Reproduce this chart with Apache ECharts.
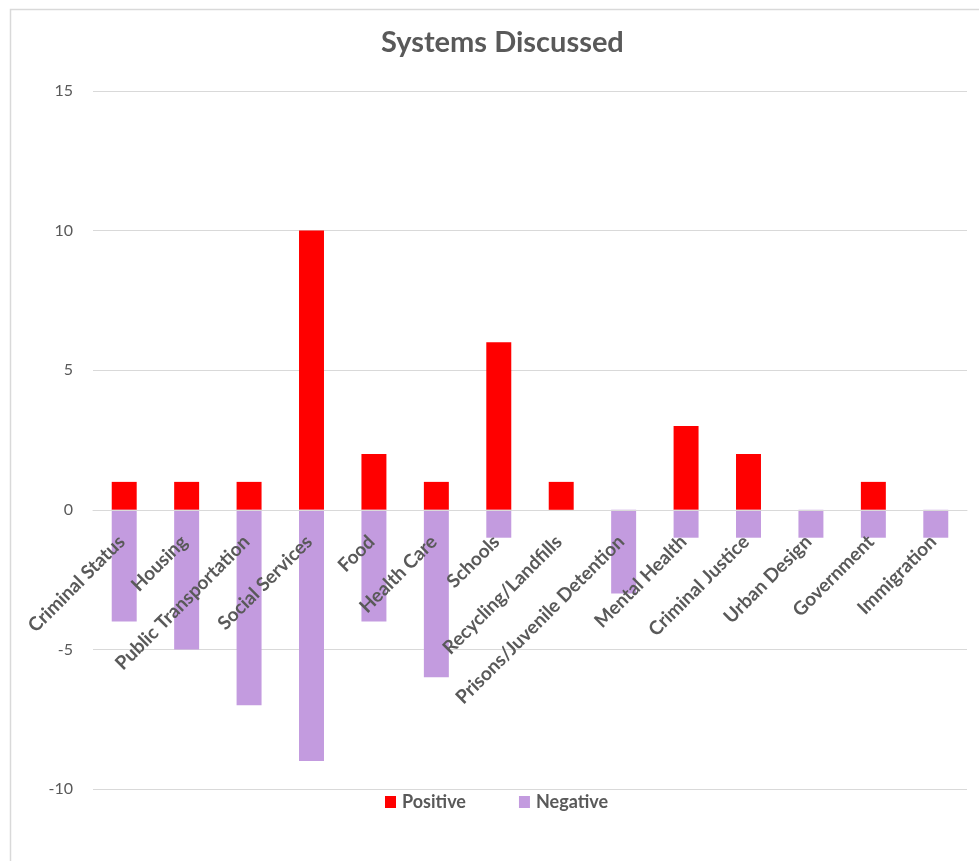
<!DOCTYPE html>
<html>
<head>
<meta charset="utf-8">
<script src="https://cdn.jsdelivr.net/npm/echarts@6/dist/echarts.min.js"></script>
<style>
html,body{margin:0;padding:0;background:#fff;}
#chart{width:979px;height:861px;}
</style>
</head>
<body>
<div id="chart"></div>
<script>
const categories = ["Criminal Status","Housing","Public Transportation","Social Services","Food","Health Care","Schools","Recycling/Landfills","Prisons/Juvenile Detention","Mental Health","Criminal Justice","Urban Design","Government","Immigration"];
const positiveValues = [1,1,1,10,2,1,6,1,0,3,2,0,1,0];
const negativeValues = [-4,-5,-7,-9,-4,-6,-1,0,-3,-1,-1,-1,-1,-1];
const yTicks = { min: -10, max: 15, interval: 5 };

const chart = echarts.init(document.getElementById('chart'));
const txt = '#595959';
const font = 'Lato, "Open Sans", sans-serif';
chart.setOption({
  backgroundColor: '#ffffff',
  animation: false,
  graphic: [{
    type: 'rect', left: 8, top: 7, shape: { width: 1100, height: 1000 },
    style: { fill: 'none', stroke: '#d9d9d9', lineWidth: 1.5 }, silent: true, z: -1
  }],
  title: {
    text: 'Systems Discussed', left: 376, top: 23,
    textStyle: { color: txt, fontFamily: font, fontSize: 29, fontWeight: 'bold' }
  },
  legend: {
    data: ['Positive','Negative'], left: 380, top: 788,
    itemWidth: 11, itemHeight: 12, itemGap: 53, icon: 'rect',
    textStyle: { color: txt, fontFamily: font, fontSize: 18, fontWeight: 'bold', padding: [0,0,0,1] }
  },
  grid: { left: 93, right: 12, top: 91, bottom: 72, containLabel: false, outerBoundsMode: 'none' },
  xAxis: {
    type: 'category', data: categories, z: 10,
    axisLine: { onZero: false, lineStyle: { color: '#d9d9d9', width: 1 } },
    axisTick: { show: false },
    axisLabel: { rotate: 45, interval: 0, color: txt, fontFamily: font, fontSize: 19, fontWeight: 'bold',
                 margin: 13, align: 'right', verticalAlign: 'top', padding: [0, 13, 0, 0] }
  },
  yAxis: {
    type: 'value', min: yTicks.min, max: yTicks.max, interval: yTicks.interval,
    axisLine: { show: false }, axisTick: { show: false },
    splitLine: { lineStyle: { color: '#d9d9d9', width: 1 } },
    axisLabel: { color: txt, fontFamily: font, fontSize: 16, margin: 20 }
  },
  series: [
    { name: 'Positive', type: 'bar', stack: 'total', data: positiveValues, barWidth: '40%', itemStyle: { color: '#FF0000' } },
    { name: 'Negative', type: 'bar', stack: 'total', data: negativeValues, barWidth: '40%', itemStyle: { color: '#C39BDF' } }
  ]
});
// place the category axis on the zero line using the library's own scale
const yZero = chart.convertToPixel({ yAxisIndex: 0 }, 0);
const yBottom = chart.convertToPixel({ yAxisIndex: 0 }, yTicks.min);
chart.setOption({ xAxis: { offset: -(yBottom - yZero) } });
</script>
</body>
</html>
